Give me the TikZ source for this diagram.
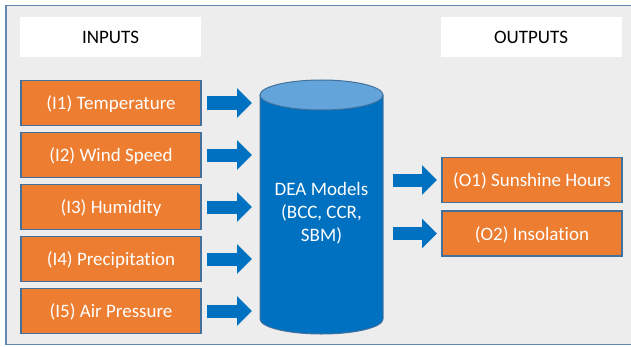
\documentclass[tikz,border=0pt]{standalone}
\usepackage{fontspec}
\setmainfont{Carlito}[Ligatures=NoCommon]
\usetikzlibrary{arrows.meta}
\definecolor{frameborder}{HTML}{6487B1}
\definecolor{framefill}{HTML}{EDEDED}
\definecolor{boxorange}{HTML}{ED7D31}
\definecolor{boxborder}{HTML}{41719C}
\definecolor{arrowblue}{HTML}{0070C0}
\definecolor{cyltop}{HTML}{63A4DA}
\tikzset{
  inbox/.style={draw=boxborder, line width=1.2pt, fill=boxorange, text=white,
    minimum width=180pt, minimum height=45pt, inner sep=0pt, outer sep=0pt,
    text height=17.5pt, text depth=4pt,
    font=\fontsize{19}{23}\selectfont},
  headbox/.style={fill=white, minimum width=181pt, minimum height=40pt,
    inner sep=0pt, outer sep=0pt, font=\fontsize{19}{23}\selectfont},
  blockarr/.style={draw=arrowblue, line width=13pt,
    -{Triangle[width=29pt,length=15pt]}, arrowblue},
}
\begin{document}
\begin{tikzpicture}[x=1pt,y=1pt]
\useasboundingbox (0,0) rectangle (631,346);
% frame
\draw[frameborder, line width=1.3pt, fill=framefill] (6,1.5) rectangle (660,340.5);
% headers
\node[headbox] (inputs) at (110.5,309) {INPUTS};
\node[headbox] (outputs) at (531,309) {OUTPUTS};
% input boxes
\node[inbox] (i1) at (111,243) {(I1) Temperature};
\node[inbox] (i2) at (111,191) {(I2) Wind Speed};
\node[inbox] (i3) at (111,139) {(I3) Humidity};
\node[inbox] (i4) at (111,87) {(I4) Precipitation};
\node[inbox] (i5) at (111,35) {(I5) Air Pressure};
% output boxes
\node[inbox] (o1) at (532,166) {(O1) Sunshine Hours};
\node[inbox] (o2) at (532,112.5) {(O2) Insolation};
% cylinder
\fill[arrowblue] (260,27) rectangle (383,251);
\fill[arrowblue] (321.5,27) ellipse [x radius=61.5, y radius=15];
\draw[boxborder, line width=1pt] (260,251) -- (260,27)
  arc[start angle=180, end angle=360, x radius=61.5, y radius=15] -- (383,251);
\draw[boxborder, line width=1pt, fill=cyltop] (321.5,251) ellipse [x radius=61.5, y radius=15];
\node[minimum width=123pt, minimum height=200pt, inner sep=0pt, outer sep=0pt,
  text=white, align=center, font=\fontsize{19}{23}\selectfont]
  (cyl) at (321.5,133) {DEA Models\\(BCC, CCR,\\SBM)};
% input arrows
\foreach \n in {i1,i2,i3,i4,i5}
  \draw[blockarr, shorten <=6pt, shorten >=8pt] (\n.east) -- (\n.east -| cyl.west);
% output arrows
\draw[blockarr, shorten <=10pt, shorten >=5pt] (o1.west -| cyl.east) -- (o1.west);
\draw[blockarr, shorten <=10pt, shorten >=5pt] (o2.west -| cyl.east) -- (o2.west);
\end{tikzpicture}
\end{document}
